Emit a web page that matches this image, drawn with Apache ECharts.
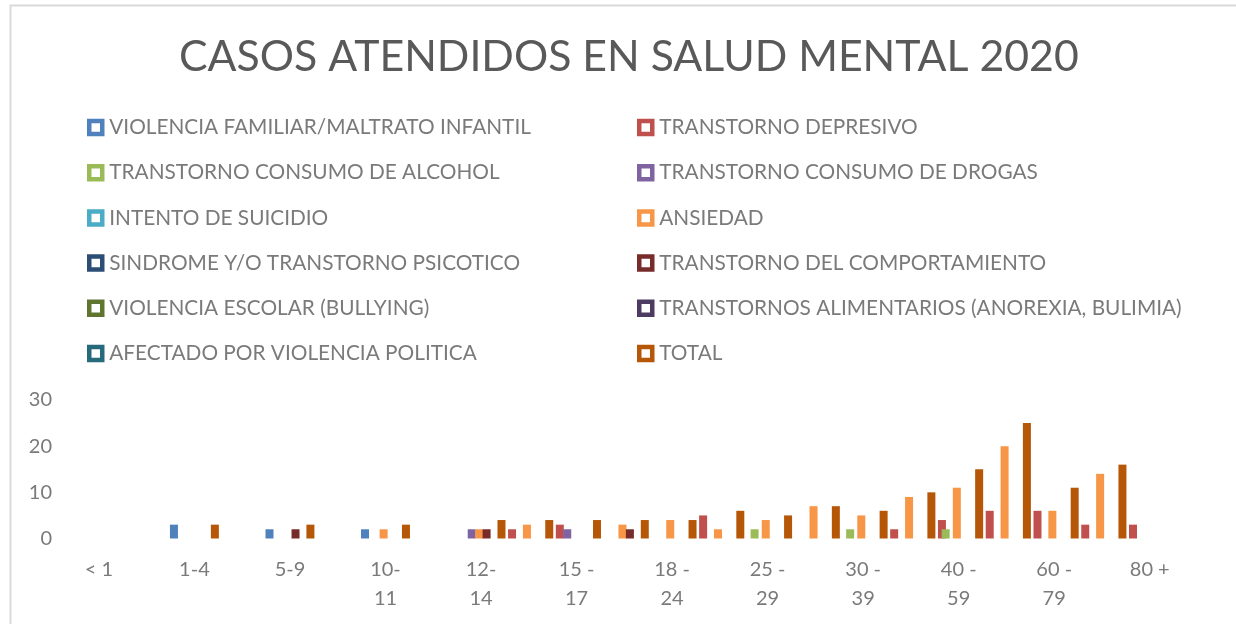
<!DOCTYPE html>
<html>
<head>
<meta charset="utf-8">
<script src="https://cdn.jsdelivr.net/npm/echarts@6/dist/echarts.min.js"></script>
<style>
html,body{margin:0;padding:0;background:#fff;}
#chart{width:1236px;height:624px;}
</style>
</head>
<body>
<div id="chart"></div>
<script>
const titleText = 'CASOS ATENDIDOS EN SALUD MENTAL 2020';
const categories = ['< 1','','1-4','','5-9','','10-\n11','','12-\n14','','15 -\n17','','18 -\n24','','25 -\n29','','30 -\n39','','40 -\n59','','60 -\n79','','80 +',''];
const seriesNames = [
  'VIOLENCIA FAMILIAR/MALTRATO INFANTIL','TRANSTORNO DEPRESIVO',
  'TRANSTORNO CONSUMO DE ALCOHOL','TRANSTORNO CONSUMO DE DROGAS',
  'INTENTO DE SUICIDIO','ANSIEDAD',
  'SINDROME Y/O TRANSTORNO PSICOTICO','TRANSTORNO DEL COMPORTAMIENTO',
  'VIOLENCIA ESCOLAR (BULLYING)','TRANSTORNOS ALIMENTARIOS (ANOREXIA, BULIMIA)',
  'AFECTADO POR VIOLENCIA POLITICA','TOTAL'
];
const colors = ['#4F81BD','#C0504D','#9BBB59','#8064A2','#4BACC6','#F79646','#2C4D75','#772C2A','#5F7530','#4D3B62','#276A7C','#B65708'];

const violenciaFamiliar = [0,0,3,0,2,0,2,0,0,0,0,0,0,0,0,0,0,0,0,0,0,0,0,0];
const depresivo         = [0,0,0,0,0,0,0,0,0,2,3,0,0,5,0,0,0,2,4,6,6,3,3,0];
const alcohol           = [0,0,0,0,0,0,0,0,0,0,0,0,0,0,2,0,2,0,2,0,0,0,0,0];
const drogas            = [0,0,0,0,0,0,0,0,2,0,2,0,0,0,0,0,0,0,0,0,0,0,0,0];
const suicidio          = [0,0,0,0,0,0,0,0,0,0,0,0,0,0,0,0,0,0,0,0,0,0,0,0];
const ansiedad          = [0,0,0,0,0,0,2,0,2,3,0,3,4,2,4,7,5,9,11,20,6,14,0,0];
const psicotico         = [0,0,0,0,0,0,0,0,0,0,0,0,0,0,0,0,0,0,0,0,0,0,0,0];
const comportamiento    = [0,0,0,0,2,0,0,0,2,0,0,2,0,0,0,0,0,0,0,0,0,0,0,0];
const bullying          = [0,0,0,0,0,0,0,0,0,0,0,0,0,0,0,0,0,0,0,0,0,0,0,0];
const alimentarios      = [0,0,0,0,0,0,0,0,0,0,0,0,0,0,0,0,0,0,0,0,0,0,0,0];
const violenciaPolitica = [0,0,0,0,0,0,0,0,0,0,0,0,0,0,0,0,0,0,0,0,0,0,0,0];
const total             = [0,0,3,0,3,0,3,0,4,4,4,4,4,6,5,7,6,10,15,25,11,16,0,0];
const yTicks = [0,10,20,30];

const values = [violenciaFamiliar,depresivo,alcohol,drogas,suicidio,ansiedad,psicotico,comportamiento,bullying,alimentarios,violenciaPolitica,total];

const FONT = 'Lato';
const legendText = {color:'#7a7a7a', fontSize:20.8, fontFamily:FONT, padding:[0,0,0,2], lineHeight:20};
function legendItems(idx){
  return idx.map(i => ({name:seriesNames[i], itemStyle:{color:'#ffffff', borderColor:colors[i], borderWidth:4.5}}));
}
const chart = echarts.init(document.getElementById('chart'), null, {renderer:'canvas'});
chart.setOption({
  animation:false,
  backgroundColor:'#ffffff',
  title:{text:titleText, left:174, top:31, textStyle:{color:'#595959', fontSize:42.8, fontWeight:'normal', fontFamily:FONT}},
  legend:[
    {orient:'vertical', left:87, top:117, padding:0, itemWidth:13, itemHeight:13, itemGap:24.2, icon:'rect', selectedMode:false,
     data:legendItems([0,2,4,6,8,10]), textStyle:legendText},
    {orient:'vertical', left:637, top:117, padding:0, itemWidth:13, itemHeight:13, itemGap:24.2, icon:'rect', selectedMode:false,
     data:legendItems([1,3,5,7,9,11]), textStyle:legendText}
  ],
  grid:{left:75, right:14.6, top:400, bottom:85.5, containLabel:false},
  xAxis:{type:'category', data:categories, axisLine:{show:false}, axisTick:{show:false},
    axisLabel:{interval:0, color:'#7a7a7a', fontSize:20, fontFamily:FONT, margin:17, lineHeight:29}},
  yAxis:{type:'value', min:yTicks[0], max:yTicks[yTicks.length-1], interval:10, splitLine:{show:false}, axisLine:{show:false}, axisTick:{show:false},
    axisLabel:{color:'#7a7a7a', fontSize:20, fontFamily:FONT, margin:23}},
  graphic:[{type:'rect', shape:{x:10.5, y:5.5, width:1240, height:640}, style:{fill:null, stroke:'#d9d9d9', lineWidth:2}, silent:true, z:-10}],
  series: values.map((v,i)=>({
    name:seriesNames[i], type:'bar', data:v, barWidth:8, barGap:'-53.5%', barCategoryGap:'0%',
    itemStyle:{color:colors[i]}, emphasis:{disabled:true}
  }))
});
</script>
</body>
</html>
